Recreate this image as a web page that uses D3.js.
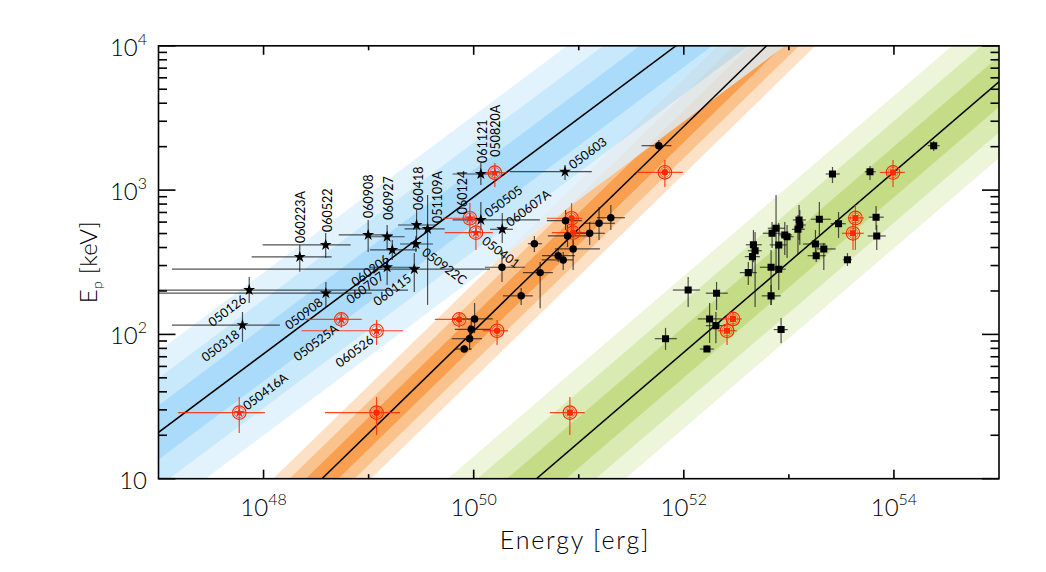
<!DOCTYPE html>
<html><head><meta charset="utf-8">
<script src="https://cdn.jsdelivr.net/npm/d3@7"></script>
<style>
body{margin:0;background:#fff;}
svg text{font-family:Lato,"DejaVu Sans",sans-serif;}
</style></head><body>
<svg id="c" width="1046" height="572"></svg>
<script>
// ---------------- DATA ----------------
// Stars (blue band)
const starNames = ["060223A","060522","060908","060927","060418","051109A","060124","061121","050820A","050505","050401","060607A","050603","060206","060707","050922C","060115","050908","050126","050318","050525A","060526","050416A"];
const starE    = [2.21e48,3.9e48,9.9e48,1.5e49,2.86e49,3.64e49,9.2e49,1.17e50,1.59e50,1.17e50,1.05e50,1.87e50,7.4e50,1.68e49,1.5e49,2.82e49,2.72e49,3.92e48,7.3e47,6.3e47,5.5e48,1.19e49,5.87e47];
const starEp   = [344,417,489,475,573,538,638,1293,1320,621,507,535,1341,385,292,423,283,193,203,116,127,106,28.7];
const starELo  = [7.7e47,9.8e47,5.2e48,1.03e49,1.9e49,2.2e49,5.1e49,6.3e49,1.15e50,6.3e49,5.3e49,1.43e50,2.2e50,1.03e49,1.03e49,1.99e49,1.34e47,5e46,5e46,1.34e47,2.48e48,2.3e48,1.53e47];
const starEHi  = [4.45e48,6.74e48,1.7e49,2.2e49,4.37e49,5.3e49,1.22e50,1.59e50,2.07e50,4.26e50,1.52e50,2.36e50,1.33e51,2.88e49,3.08e49,4.09e49,1.43e50,1.07e49,2.37e49,1.43e48,8.6e48,2.12e49,1.03e48];
const starEpLo = [272,338,372,385,451,160,504,1085,1050,529,385,430,1175,328,220,372,197,155,165,88.6,111,84.4,20.7];
const starEpHi = [417,504,621,573,728,925,814,1541,1541,827,651,694,1492,451,338,481,366,231,250,143,143,126,36.8];
const starRed  = [0,0,0,0,0,0,1,0,1,0,1,0,0,0,0,0,0,0,0,0,1,1,1];
const starLabelSide = ["v","v","v","v","v","v","v","v","v","ur","dr","ur","ur","ll","ll","dr","ll","ll","ll","ll","ll","ll","ur"];

// Dots (orange band)
const dotE    = [5.78e51,6.6e51,8.54e50,8.84e50,7.49e50,7.82e50,8.84e50,1.27e51,1.56e51,2.02e51,3.78e50,6.37e50,7.11e50,1.86e50,4.29e50,2.83e50,7.28e49,1.02e50,1.67e50,9.47e49,9.14e49,8.12e49,1.19e49];
const dotEp   = [2032,1328,638,507,614,481,391,502,589,644,425,351,328,292,268,185,127,128,106,108.5,93.4,79.2,28.7];
const dotELo  = [3.96e51,3.57e51,4.97e50,5.55e50,4.97e50,5.08e50,5.92e50,9.18e50,1.14e51,1.49e51,3.28e50,4.46e50,4.43e50,1.28e50,2.94e50,1.9e50,4.27e49,6.2e49,1.22e50,6.62e49,6.2e49,6.62e49,3.84e48];
const dotEHi  = [7.64e51,9.8e51,1.09e51,1.19e51,1.07e51,1.28e51,1.59e51,1.77e51,2.21e51,2.75e51,4.46e50,9.18e50,8.84e50,3.07e50,5.67e50,3.66e50,1.07e50,1.52e50,2.12e50,1.43e50,1.2e50,9.61e49,1.99e49];
const dotEpLo = [1866,1050,504,385,529,403,279,417,451,529,372,317,279,231,152,160,111,102,84.4,94.4,78,75.5,20.1];
const dotEpHi = [2225,1617,814,651,728,573,451,601,764,788,481,397,372,385,317,210,143,165,126,126,116,84.4,36.8];
const dotRed  = [0,1,1,1,0,0,0,0,0,0,0,0,0,0,0,0,1,0,1,0,0,0,1];

// Squares (green band)
const sqE    = [8.23e50,1.1e52,2.05e52,1.76e52,2.02e52,2.94e52,2.58e52,6.7e51,1.66e52,4.11e52,2.39e54,9.8e53,2.6e53,5.92e53,4.3e53,4.08e53,6.76e53,6.86e53,2.97e53,1.95e53,1.25e53,1.27e53,1.22e53,7.55e52,6.92e52,9.14e52,9.61e52,8.01e52,1.79e53,4.6e52,4.77e52,4.5e52,1.82e53,2.15e53,3.61e53,6.77e52,8.01e52,6.77e52,8.43e52];
const sqEp   = [28.7,203,193,128,115,128,106,93.4,79.2,268,2032,1325,1293,1341,641,502,649,481,585,628,621,573,535,544,502,489,475,417,423,418,380,346,351,391,329,292,283,185,108];
const sqELo  = [5.31e50,7.86e51,1.62e52,1.36e52,1.62e52,2.3e52,2.11e52,5.3e51,1.42e52,3.41e52,2.1e54,7.33e53,2.24e53,5.28e53,3.63e53,3.19e53,5.76e53,5.63e53,2.5e53,1.62e53,1.09e53,1.14e53,1.07e53,6.3e52,5.65e52,8.01e52,8.37e52,6.58e52,1.36e53,3.89e52,4.06e52,3.81e52,1.51e53,1.8e53,3.26e53,5.29e52,6.88e52,5.52e52,7.18e52];
const sqEHi  = [1.14e51,1.42e52,2.62e52,2.3e52,2.51e52,3.56e52,3.19e52,8.58e51,1.93e52,4.95e52,2.73e54,1.27e54,3.05e53,6.71e53,5.16e53,5.16e53,8e53,8.36e53,3.48e53,2.5e53,1.45e53,1.45e53,1.42e53,9.14e52,8.37e52,1.07e53,1.11e53,9.55e52,2.24e53,5.52e52,5.52e52,5.29e52,2.24e53,2.79e53,3.97e53,8.37e52,9.34e52,8.37e52,9.76e52];
const sqEpLo = [20.1,155,147.6,87.2,87,111,84.4,78,75.5,220,1866,1050,1120,1175,385,385,529,385,466,489,451,417,355,293,397,355,338,293,338,317,155,270,317,279,298,160,203,160,87];
const sqEpHi = [36.8,250,231,165,143,143,126,111,84.4,317,2189,1617,1446,1468,788,601,776,573,705,827,788,728,672,925,601,601,573,592,529,529,512,397,385,430,366,385,417,220,130];
const sqRed  = [1,0,0,0,0,1,1,0,0,0,0,1,0,0,1,1,0,0,0,0,0,0,0,0,0,0,0,0,0,0,0,0,0,0,0,0,0,0,0];

// Correlation bands: Ep = pivotEp * (E/pivotE)^slope, scatter sigma in dex
const bandNames   = ["stars","dots","squares"];
const bandPivotE  = [1e50,1e50,1e52];
const bandPivotEp = [897,105.6,75.2];
const bandSlope   = [0.544,0.709,0.625];
const bandSigma   = [0.188,0.110,0.176];

const xTickExp = [48,50,52,54];
const xMinorExp = [49,51,53];
const yTickExp = [1,2,3,4];

// ---------------- DRAW ----------------
const L=158.5,R=999,T=45.8,B=478.7;
const x=d3.scaleLog().domain([1e47,1e55]).range([L,R]);
const y=d3.scaleLog().domain([10,1e4]).range([B,T]);
const svg=d3.select('#c');
svg.append('defs').append('clipPath').attr('id','clip')
  .append('rect').attr('x',L).attr('y',T).attr('width',R-L).attr('height',B-T);
const plot=svg.append('g').attr('clip-path','url(#clip)');

const bandColors=[
  ["#95d3f9","#bbe3fc","#dcf1fe"],   // blue (drawn with group opacity)
  ["#f99f50","#fbc48e","#fde2c6"],
  ["#c5dd88","#daeab3","#edf5db"]
];
function bandPts(i,k){
  const f=(E,off)=>bandPivotEp[i]*Math.pow(E/bandPivotE[i],bandSlope[i])*Math.pow(10,off);
  const e0=1e44,e1=1e58, s=bandSigma[i]*k;
  return [[e0,f(e0,s)],[e1,f(e1,s)],[e1,f(e1,-s)],[e0,f(e0,-s)]].map(p=>[x(p[0]),y(p[1])]);
}
const line=d3.line();
[1,2,0].forEach(i=>{
  const g=plot.append('g');
  if(i===0) g.attr('opacity',0.8);
  [3,2,1].forEach(k=>{
    g.append('path').attr('d',line(bandPts(i,k))+'Z').attr('fill',bandColors[i][k-1]);
  });
});
// fit lines
[0,1,2].forEach(i=>{
  const f=E=>bandPivotEp[i]*Math.pow(E/bandPivotE[i],bandSlope[i]);
  plot.append('path').attr('d',line([[x(1e44),y(f(1e44))],[x(1e58),y(f(1e58))]]))
    .attr('stroke','#000').attr('stroke-width',1.5).attr('fill','none');
});

const RED='#ff2a00';
function drawSet(E,Ep,ELo,EHi,EpLo,EpHi,red,shape){
  const g=plot.append('g');
  E.forEach((e,i)=>{
    const col=red[i]?RED:'#1a1a1a';
    const op=red[i]?0.85:0.75;
    g.append('line').attr('x1',x(ELo[i])).attr('x2',x(EHi[i])).attr('y1',y(Ep[i])).attr('y2',y(Ep[i]))
      .attr('stroke',col).attr('stroke-width',1.2).attr('opacity',op);
    g.append('line').attr('x1',x(e)).attr('x2',x(e)).attr('y1',y(EpLo[i])).attr('y2',y(EpHi[i]))
      .attr('stroke',col).attr('stroke-width',1.2).attr('opacity',op);
  });
  E.forEach((e,i)=>{
    const cx=x(e), cy=y(Ep[i]);
    const col=red[i]?RED:'#000';
    if(red[i]){
      g.append('circle').attr('cx',cx).attr('cy',cy).attr('r',6.8).attr('fill','none').attr('stroke',RED).attr('stroke-width',1.1);
      g.append('circle').attr('cx',cx).attr('cy',cy).attr('r',5.0).attr('fill','none').attr('stroke',RED).attr('stroke-width',0.8).attr('opacity',0.8);
    }
    let sym;
    if(shape==='star') sym=d3.symbol(d3.symbolStar, red[i]?34:44);
    else if(shape==='square') sym=d3.symbol(d3.symbolSquare, red[i]?38:50);
    else sym=d3.symbol(d3.symbolCircle, red[i]?34:44);
    g.append('path').attr('d',sym()).attr('transform',`translate(${cx},${cy})`).attr('fill',col);
  });
}
drawSet(dotE,dotEp,dotELo,dotEHi,dotEpLo,dotEpHi,dotRed,'dot');
drawSet(sqE,sqEp,sqELo,sqEHi,sqEpLo,sqEpHi,sqRed,'square');
drawSet(starE,starEp,starELo,starEHi,starEpLo,starEpHi,starRed,'star');

// star labels
const vNudge={"060223A":[5,-14],"060522":[6,-13],"060908":[5,-17],"060927":[6,-17],"060418":[6,-15],"051109A":[14,-6],"060124":[-3,-4],"061121":[6,-11],"050820A":[5,-16]};
const lab=svg.append('g').attr('font-size',12.5).attr('font-weight',400).attr('fill','#000');
starNames.forEach((n,i)=>{
  const sx=x(starE[i]), sy=y(starEp[i]);
  let px,py,rot,anchor='start';
  const s=starLabelSide[i];
  if(s==='v'){const d=vNudge[n]||[5,-14];px=sx+d[0];py=sy+d[1];rot=-90;}
  else if(s==='ur'){px=sx+8;py=sy-2;rot=-37;}
  else if(s==='ll'){px=sx-2;py=sy+11;rot=-37;anchor='end';}
  else {px=sx+5;py=sy+10;rot=37;}
  lab.append('text').attr('transform',`translate(${px},${py}) rotate(${rot})`)
    .attr('text-anchor',anchor).text(n);
});

// axes frame
const ax=svg.append('g').attr('stroke','#000').attr('stroke-width',1.6).attr('fill','none');
ax.append('rect').attr('x',L).attr('y',T).attr('width',R-L).attr('height',B-T);
xTickExp.forEach(e=>{const p=x(Math.pow(10,e));
  ax.append('line').attr('x1',p).attr('x2',p).attr('y1',B).attr('y2',B-9);
  ax.append('line').attr('x1',p).attr('x2',p).attr('y1',T).attr('y2',T+9);});
xMinorExp.forEach(e=>{const p=x(Math.pow(10,e));
  ax.append('line').attr('x1',p).attr('x2',p).attr('y1',B).attr('y2',B-4.5);
  ax.append('line').attr('x1',p).attr('x2',p).attr('y1',T).attr('y2',T+4.5);});
yTickExp.forEach(e=>{const base=Math.pow(10,e);
  const p=y(base);
  ax.append('line').attr('x1',L).attr('x2',L+17).attr('y1',p).attr('y2',p);
  ax.append('line').attr('x1',R).attr('x2',R-17).attr('y1',p).attr('y2',p);
  if(e<4){for(let m=2;m<=9;m++){const q=y(base*m);
    ax.append('line').attr('x1',L).attr('x2',L+8.5).attr('y1',q).attr('y2',q);
    ax.append('line').attr('x1',R).attr('x2',R-8.5).attr('y1',q).attr('y2',q);}}
});

// tick labels
const tl=svg.append('g').attr('fill','#000').attr('font-weight',300);
xTickExp.forEach(e=>{
  const t=tl.append('text').attr('x',x(Math.pow(10,e))).attr('y',516).attr('text-anchor','middle').attr('font-size',24);
  t.append('tspan').text('10');
  t.append('tspan').attr('dy',-11).attr('font-size',16).text(e);
});
yTickExp.forEach(e=>{
  const t=tl.append('text').attr('x',147).attr('y',y(Math.pow(10,e))+10).attr('text-anchor','end').attr('font-size',24);
  t.append('tspan').text('10');
  if(e>1) t.append('tspan').attr('dy',-11).attr('font-size',16).text(e);
});
// axis titles
tl.append('text').attr('x',575).attr('y',549).attr('text-anchor','middle').attr('font-size',25)
  .attr('letter-spacing',1.8).text('Energy [erg]');
const yt=tl.append('text').attr('transform',`translate(97,${(T+B)/2}) rotate(-90)`).attr('text-anchor','middle').attr('font-size',24).attr('letter-spacing',0.3);
yt.append('tspan').text('E');
yt.append('tspan').attr('font-size',14).attr('dy',5).text('p');
yt.append('tspan').attr('dy',-5).text(' [keV]');
</script>
</body></html>
